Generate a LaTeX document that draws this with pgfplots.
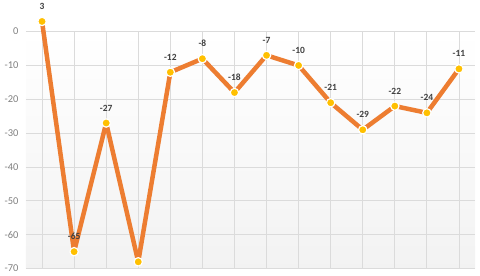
\documentclass[border=0pt]{standalone}
\usepackage{pgfplots}
\pgfplotsset{compat=1.18}
\usepackage{fontspec}
\setmainfont{Carlito}
\definecolor{lineor}{HTML}{ED7D31}
\definecolor{mk}{HTML}{FFC000}
\definecolor{lbl}{HTML}{404040}
\definecolor{tk}{HTML}{808080}
\begin{document}
\begin{tikzpicture}
\begin{axis}[
 scale only axis, width=449bp, height=237bp,
 xmin=-0.5, xmax=13.5, ymin=-70, ymax=0,
 clip=false,
 axis line style={draw=none},
 tick style={draw=none},
 xtick={0,...,13}, xticklabels={},
 ytick={-70,-60,...,0},
 grid=major, major grid style={draw=black!14, line width=0.8pt},
 yticklabel style={text=tk, font=\fontsize{10.5}{12}\selectfont, xshift=-4bp},
 /pgf/number format/assume math mode=true,
 axis background/.style={shading=axis, top color=white, bottom color=black!5},
 point meta=explicit symbolic,
 nodes near coords,
 every node near coord/.append style={anchor=center, yshift=15bp, font=\bfseries\fontsize{9.5}{10}\selectfont, text=lbl},
]
\addplot[lineor, line width=4.5bp, line join=round, mark=*, mark size=4.2bp, mark options={fill=mk, draw=white, line width=1.2bp}] coordinates {
(0,3) [3] (1,-65) [-65] (2,-27) [-27] (3,-68) [{}] (4,-12) [-12] (5,-8) [-8] (6,-18) [-18] (7,-7) [-7] (8,-10) [-10] (9,-21) [-21] (10,-29) [-29] (11,-22) [-22] (12,-24) [-24] (13,-11) [-11]
};
\end{axis}
\path[use as bounding box] (-26bp,-4bp) rectangle (454bp,266bp);
\end{tikzpicture}
\end{document}
